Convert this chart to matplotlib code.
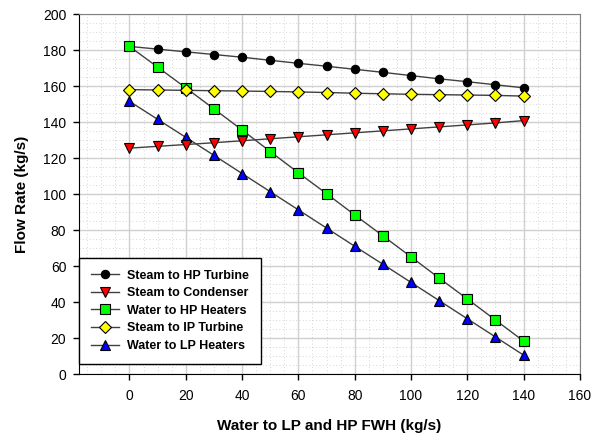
import numpy as np
import matplotlib
matplotlib.use('Agg')
import matplotlib.pyplot as plt
from matplotlib.ticker import MultipleLocator

plt.rcParams['font.family'] = ['Liberation Sans', 'DejaVu Sans']

water_fwh = [0, 10, 20, 30, 40, 50, 60, 70, 80, 90, 100, 110, 120, 130, 140]
hp_turbine = [182, 180.5, 179, 177.5, 176, 174.3, 172.6, 171, 169.3, 167.6, 165.8, 164, 162.4, 160.7, 159]
condenser = [125.5, 126.5, 127.5, 128.5, 129.6, 130.7, 131.8, 132.9, 134, 135.1, 136.2, 137.3, 138.4, 139.5, 140.8]
hp_heaters = [182, 170.5, 159, 147.3, 135.6, 123.6, 111.8, 100.2, 88.4, 76.8, 65.1, 53.3, 41.7, 30, 18.3]
ip_turbine = [158, 157.8, 157.6, 157.4, 157.2, 157, 156.7, 156.4, 156, 155.7, 155.4, 155.2, 155, 154.8, 154.4]
lp_heaters = [151.5, 141.5, 131.5, 121.5, 111.4, 101.3, 91.2, 81.1, 71, 61, 50.9, 40.8, 30.7, 20.6, 10.5]

fig = plt.figure(figsize=(6.06, 4.38), dpi=100)
ax = fig.add_axes([0.130, 0.146, 0.827, 0.822])

kw = dict(color='#404040', lw=1.0, markeredgecolor='black', markeredgewidth=0.8)
l5, = ax.plot(water_fwh, lp_heaters, marker='^', markerfacecolor='#0000ff', markersize=7, label='Water to LP Heaters', **kw)
l1, = ax.plot(water_fwh, hp_turbine, marker='o', markerfacecolor='black', markersize=6, label='Steam to HP Turbine', **kw)
l2, = ax.plot(water_fwh, condenser, marker='v', markerfacecolor='#ff0000', markersize=7, label='Steam to Condenser', **kw)
l3, = ax.plot(water_fwh, hp_heaters, marker='s', markerfacecolor='#00ff00', markersize=6.5, label='Water to HP Heaters', **kw)
l4, = ax.plot(water_fwh, ip_turbine, marker='D', markerfacecolor='#ffff00', markersize=6, label='Steam to IP Turbine', **kw)

ax.set_xlim(-18, 160)
ax.set_ylim(0, 200)
ax.xaxis.set_major_locator(MultipleLocator(20))
ax.yaxis.set_major_locator(MultipleLocator(20))
ax.xaxis.set_minor_locator(MultipleLocator(5))
ax.yaxis.set_minor_locator(MultipleLocator(5))
ax.grid(which='major', color='#d0d0d0', lw=1.0, zorder=0)
ax.grid(which='minor', color='#c8c8c8', lw=0.6, ls=(0, (1, 3)), zorder=0)
ax.set_axisbelow(True)
ax.tick_params(which='major', direction='out', length=4, width=1, labelsize=10)
ax.tick_params(which='minor', length=0)
ax.tick_params(axis='x', pad=7)
ax.tick_params(axis='y', pad=5)
for s in ['top', 'right']:
    ax.spines[s].set_color('#808080')
for s in ['left', 'bottom']:
    ax.spines[s].set_color('black')

ax.set_xlabel('Water to LP and HP FWH (kg/s)', fontsize=11, fontweight='bold', labelpad=11)
ax.set_ylabel('Flow Rate (kg/s)', fontsize=11, fontweight='bold', labelpad=10)

leg = ax.legend(handles=[l1, l2, l3, l4, l5], loc='lower left', bbox_to_anchor=(0.0, 0.028),
                fancybox=False, edgecolor='black', framealpha=1, borderaxespad=0,
                prop={'weight': 'bold', 'size': 9}, handlelength=2.3, labelspacing=0.45,
                borderpad=0.95, handletextpad=0.6)
leg.get_frame().set_linewidth(1.0)

fig.savefig('out.png', dpi=100)
